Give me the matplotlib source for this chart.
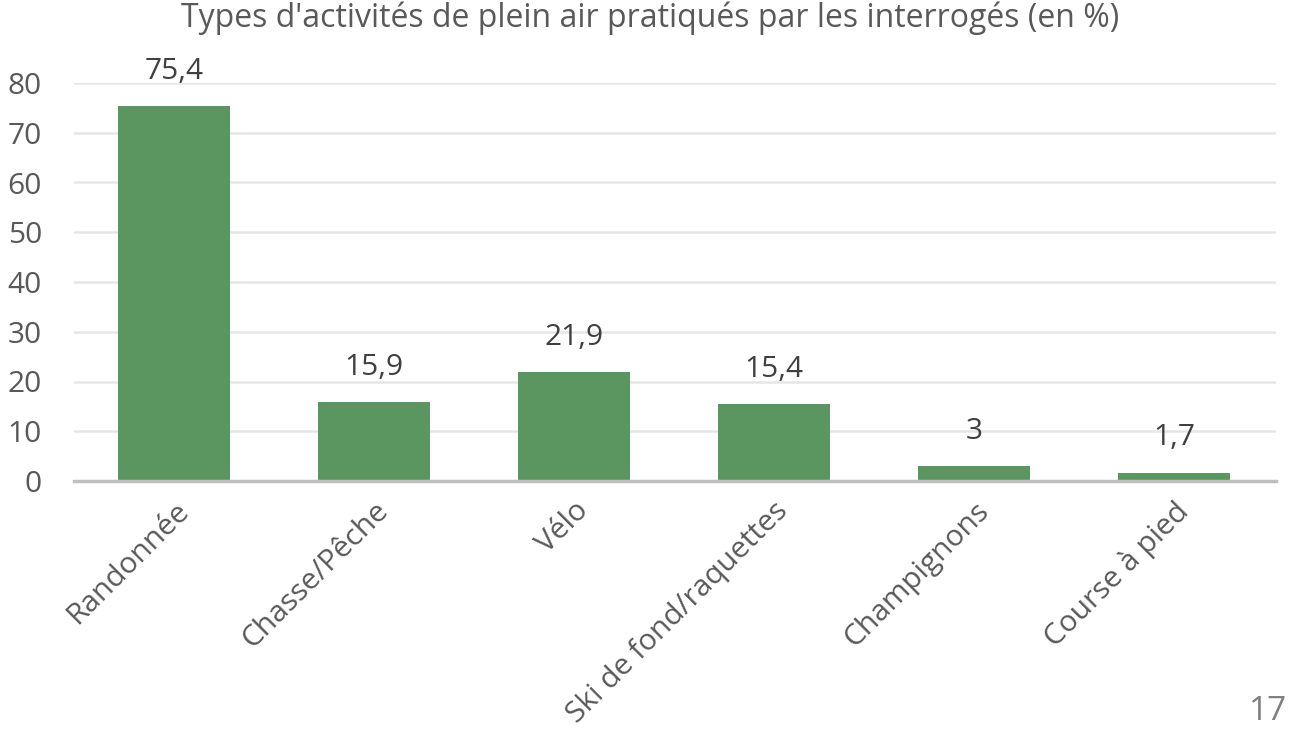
import matplotlib
matplotlib.use("Agg")
import matplotlib.pyplot as plt

# Activities and share of respondents (%)
activities = ["Randonnée", "Chasse/Pêche", "Vélo", "Ski de fond/raquettes",
              "Champignons", "Course à pied"]
values = [75.4, 15.9, 21.9, 15.4, 3, 1.7]
value_labels = ["75,4", "15,9", "21,9", "15,4", "3", "1,7"]
y_ticks = [0, 10, 20, 30, 40, 50, 60, 70, 80]

plt.rcParams['font.family'] = ['Open Sans', 'DejaVu Sans']

fig = plt.figure(figsize=(12.92, 7.39), dpi=100)
ax = fig.add_axes([74/1292, 1-481/739, (1276-74)/1292, (481-83)/739])

x = list(range(len(activities)))
ax.bar(x, values, width=0.56, color="#5B9660", zorder=3)
for xi, v, lab in zip(x, values, value_labels):
    ax.text(xi, v + 7.0, lab, ha="center", va="center", fontsize=21.5, color="#404040")

ax.set_xlim(-0.5, 5.51)
ax.set_ylim(0, 80)
ax.set_yticks(y_ticks)
ax.set_yticklabels([str(t) for t in y_ticks], fontsize=21.5, color="#595959")
ax.yaxis.grid(True, color="#e6e6e6", lw=1.8, zorder=0)
ax.tick_params(axis="y", length=0, pad=23)
ax.tick_params(axis="x", length=0, pad=11)
ax.set_xticks(x)
ax.set_xticklabels(activities, rotation=45, ha="right", rotation_mode="anchor",
                   fontsize=21.5, color="#595959")
for s in ["top", "right", "left"]:
    ax.spines[s].set_visible(False)
ax.spines["bottom"].set_color("#bfbfbf")
ax.spines["bottom"].set_linewidth(2.5)
ax.spines["bottom"].set_zorder(4)

fig.text(650/1292, 1-18/739, "Types d'activités de plein air pratiqués par les interrogés (en %)",
         ha="center", va="center", fontsize=23, color="#595959")
fig.text(1287/1292, 1-712/739, "17", ha="right", va="center", fontsize=24, color="#7f7f7f")

fig.savefig("out.png", dpi=100)
